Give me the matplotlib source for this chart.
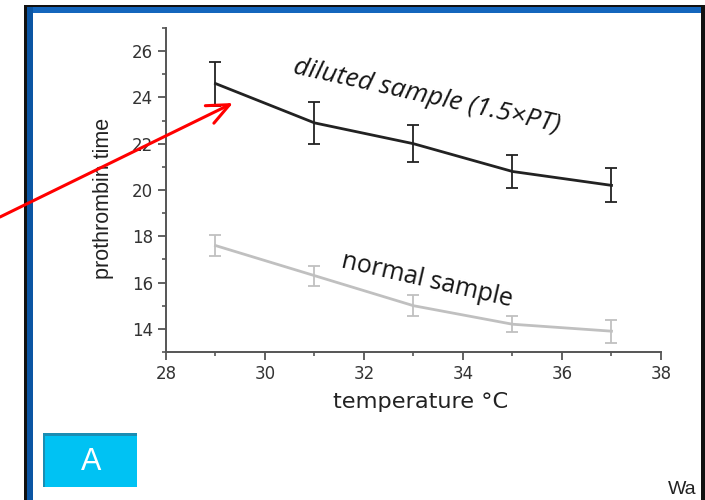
import matplotlib
matplotlib.use("Agg")
import matplotlib.pyplot as plt
from matplotlib.patches import Rectangle, FancyArrowPatch
from matplotlib.ticker import MultipleLocator

# values
temps = [29, 31, 33, 35, 37]
diluted = [24.6, 22.9, 22.0, 20.8, 20.2]
diluted_err = [0.95, 0.9, 0.8, 0.73, 0.74]
normal = [17.6, 16.3, 15.0, 14.2, 13.9]
normal_err = [0.45, 0.43, 0.45, 0.35, 0.5]

W, H = 705, 500
fig = plt.figure(figsize=(W / 100, H / 100), dpi=100)


def px_rect(x0, y0, x1, y1, color, z=5):
    """Rectangle given in top-left pixel coordinates."""
    r = Rectangle((x0 / W, 1 - y1 / H), (x1 - x0) / W, (y1 - y0) / H,
                  transform=fig.transFigure, facecolor=color,
                  edgecolor="none", zorder=z)
    fig.add_artist(r)


ax = fig.add_axes([166 / W, 1 - 352 / H, (661 - 166) / W, (352 - 28) / H])

ax.errorbar(temps, diluted, yerr=diluted_err, color="#222222", lw=2,
            elinewidth=1.3, capsize=4, capthick=1.3)
ax.errorbar(temps, normal, yerr=normal_err, color="#c0c0c0", lw=2,
            elinewidth=1.3, capsize=4, capthick=1.3)

ax.set_xlim(28, 38)
ax.set_ylim(13, 27)
ax.set_xticks([28, 30, 32, 34, 36, 38])
ax.set_yticks([14, 16, 18, 20, 22, 24, 26])
ax.xaxis.set_minor_locator(MultipleLocator(1))
ax.yaxis.set_minor_locator(MultipleLocator(1))

for side in ("top", "right"):
    ax.spines[side].set_visible(False)
for side in ("left", "bottom"):
    ax.spines[side].set_color("#555555")
    ax.spines[side].set_linewidth(1.4)

ax.tick_params(which="major", direction="out", length=5.5, width=1.3,
               color="#555555", labelsize=12, labelcolor="#333333", pad=4)
ax.tick_params(which="minor", direction="out", length=3, width=1.2,
               color="#555555")
for lab in ax.get_xticklabels() + ax.get_yticklabels():
    lab.set_family("DejaVu Sans")

ax.set_xlabel("temperature °C", family="DejaVu Sans", fontsize=16.2,
              color="#222222", va="center", ha="center")
ax.xaxis.set_label_coords(0.515, -0.154)
ax.set_ylabel("prothrombin time", family="Liberation Sans", fontsize=15.5,
              color="#222222", va="center", ha="center")
ax.yaxis.set_label_coords(-0.127, 0.475)

ax.text(33.27, 24.05, "diluted sample (1.5×PT)", family="Open Sans",
        style="italic", fontsize=19, rotation=-12.5, ha="center", va="center",
        color="#151515", rotation_mode="anchor")
ax.text(33.27, 16.11, "normal sample", family="Open Sans", fontsize=18,
        rotation=-13, ha="center", va="center", color="#151515",
        rotation_mode="anchor")

# slide frame
px_rect(24, 5, 705, 7, "#111111", 6)
px_rect(27, 7, 705, 13, "#1466bd", 6)
px_rect(24, 5, 27, 500, "#111111", 7)
px_rect(27, 7, 33, 500, "#0b55a3", 7)
px_rect(701, 5, 705, 500, "#111111", 8)

# panel tag
px_rect(43, 433, 137, 487, "#1b8db3", 5)
px_rect(45, 436, 137, 487, "#00c2f3", 5)
fig.text(91 / W, 1 - 462 / H, "A", color="white", fontsize=22,
         family="Liberation Sans", ha="center", va="center", zorder=6)
fig.text(668 / W, 1 - 494 / H, "Wa", color="#222222", fontsize=14,
         family="Liberation Sans", ha="left", va="baseline", zorder=4)

arrow = FancyArrowPatch((0, 1 - 217 / H), (233 / W, 1 - 103 / H),
                        transform=fig.transFigure,
                        arrowstyle="->,head_length=0.8,head_width=0.35",
                        mutation_scale=20, color="#ff0000", lw=2.2,
                        shrinkA=0, shrinkB=0, zorder=10)
fig.add_artist(arrow)

fig.savefig("out.png", dpi=100)
